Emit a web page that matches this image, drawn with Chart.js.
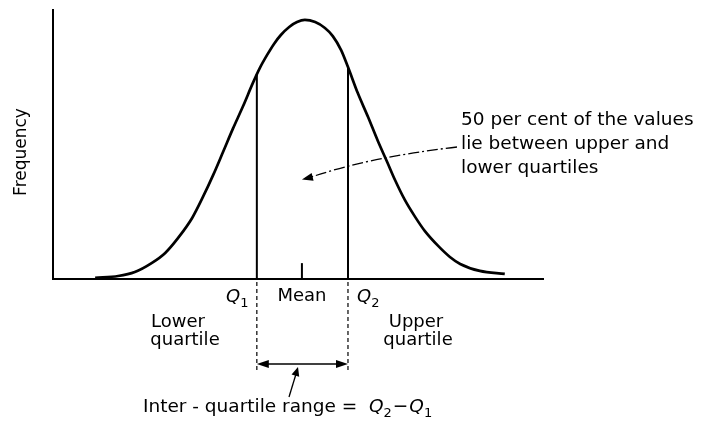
<!DOCTYPE html>
<html>
<head>
<meta charset="utf-8">
<script src="https://cdn.jsdelivr.net/npm/chart.js@4.4.1/dist/chart.umd.min.js"></script>
<style>
  html, body { margin: 0; padding: 0; background: #fff; }
  #wrap { width: 703px; height: 427px; }
</style>
</head>
<body>
<div id="wrap"><canvas id="chart"></canvas></div>
<script>
// curve (x: 0-100 along the axis, y: 0-100 frequency)
const curveX = [8.6, 13.3, 16.7, 20.2, 22.9, 25.5, 28.4, 30.6, 32.7, 34.7, 36.7, 38.8, 40.8,
                42.2, 43.7, 45.1, 46.5, 48.2, 49.8, 51.4, 53.5, 55.5, 57.1, 58.8, 60.2,
                62.2, 64.3, 66.3, 68.2, 69.8, 71.8, 73.9, 75.9, 78.6, 81.0, 83.1, 87.1, 92.2];
const curveY = [0.4, 1.1, 2.6, 6.0, 9.7, 15.2, 22.7, 30.5, 38.7, 47.2, 55.8, 64.3, 72.9,
                78.4, 83.3, 87.4, 90.7, 93.7, 95.5, 96.3, 95.5, 93.3, 90.3, 85.1, 78.8,
                69.1, 60.2, 51.3, 43.5, 36.8, 29.4, 23.1, 17.8, 12.3, 8.2, 5.6, 3.0, 1.9];

const quartileX = [41.6, 60.2];     // Q1, Q2
const quartileY = [76.1, 78.8];     // where the ordinates meet the curve
const meanX = 50.8;
const meanTickY = 5.9;

const noteLines = ['50 per cent of the values', 'lie between upper and', 'lower quartiles'];
const FONT = '"DejaVu Sans", sans-serif';

const vline = (x, y) => ({
    data: [{ x: x, y: 0 }, { x: x, y: y }],
    borderColor: '#000', borderWidth: 2, pointRadius: 0, tension: 0
});

function arrowHead(ctx, x, y, angle, len, half) {
    ctx.save();
    ctx.translate(x, y);
    ctx.rotate(angle);
    ctx.beginPath();
    ctx.moveTo(0, 0);
    ctx.lineTo(-len, -half);
    ctx.lineTo(-len, half);
    ctx.closePath();
    ctx.fill();
    ctx.restore();
}

// draws "Q" + subscript, returns end x
function qLabel(ctx, text, sub, x, y, size) {
    ctx.font = 'italic ' + size + 'px ' + FONT;
    ctx.fillText(text, x, y);
    let w = ctx.measureText(text).width;
    ctx.font = Math.round(size * 0.72) + 'px ' + FONT;
    ctx.fillText(sub, x + w, y + 5);
    return x + w + ctx.measureText(sub).width;
}

const annotations = {
    id: 'annotations',
    afterDraw(chart) {
        const ctx = chart.ctx;
        const xs = chart.scales.x, ys = chart.scales.y;
        const q1 = xs.getPixelForValue(quartileX[0]);
        const q2 = xs.getPixelForValue(quartileX[1]);
        const base = ys.getPixelForValue(0);
        ctx.save();
        ctx.fillStyle = '#000';
        ctx.strokeStyle = '#000';
        ctx.textBaseline = 'alphabetic';

        // y axis title
        ctx.save();
        ctx.translate(22, 152);
        ctx.rotate(-Math.PI / 2);
        ctx.font = '17px ' + FONT;
        ctx.textAlign = 'center';
        ctx.textBaseline = 'middle';
        ctx.fillText('Frequency', 0, 0);
        ctx.restore();

        // note on the right
        ctx.font = '18.5px ' + FONT;
        ctx.textAlign = 'left';
        noteLines.forEach((t, i) => ctx.fillText(t, 461, 125 + i * 24));

        // dash-dot pointer into the middle band
        const tipX = xs.getPixelForValue(meanX), tipY = ys.getPixelForValue(37);
        ctx.lineWidth = 1.3;
        ctx.setLineDash([11, 3, 2, 3]);
        ctx.beginPath();
        ctx.moveTo(457, 147);
        ctx.quadraticCurveTo(370, 157, tipX + 8, tipY - 2);
        ctx.stroke();
        ctx.setLineDash([]);
        arrowHead(ctx, tipX, tipY, Math.atan2(2, -8), 11, 4);

        // quartile labels under the axis
        ctx.textAlign = 'left';
        qLabel(ctx, 'Q', '1', 226, 302, 18);
        qLabel(ctx, 'Q', '2', 357, 302, 18);
        ctx.font = '18px ' + FONT;
        ctx.textAlign = 'center';
        ctx.fillText('Mean', xs.getPixelForValue(meanX), 301);
        ctx.fillText('Lower', 178, 327);
        ctx.fillText('quartile', 185, 345);
        ctx.fillText('Upper', 416, 327);
        ctx.fillText('quartile', 418, 345);

        // dashed extensions of the quartile ordinates
        ctx.lineWidth = 1.2;
        ctx.setLineDash([4, 3]);
        [q1, q2].forEach(px => {
            ctx.beginPath();
            ctx.moveTo(px, base + 3);
            ctx.lineTo(px, 373);
            ctx.stroke();
        });
        ctx.setLineDash([]);

        // double-headed range arrow
        ctx.lineWidth = 1.3;
        ctx.beginPath();
        ctx.moveTo(q1 + 6, 364);
        ctx.lineTo(q2 - 6, 364);
        ctx.stroke();
        arrowHead(ctx, q1, 364, Math.PI, 12, 4);
        arrowHead(ctx, q2, 364, 0, 12, 4);

        // small pointer from the caption
        ctx.beginPath();
        ctx.moveTo(289, 397);
        ctx.lineTo(296, 374);
        ctx.stroke();
        arrowHead(ctx, 298, 367, Math.atan2(-23, 7), 9, 4);

        // caption
        ctx.textAlign = 'left';
        ctx.font = '18.5px ' + FONT;
        let cx = 143;
        const head = 'Inter - quartile range =  ';
        ctx.fillText(head, cx, 412);
        cx += ctx.measureText(head).width;
        cx = qLabel(ctx, 'Q', '2', cx, 412, 18.5);
        ctx.font = '18.5px ' + FONT;
        ctx.fillText('\u2212', cx + 1, 412);
        cx += ctx.measureText('\u2212').width + 2;
        qLabel(ctx, 'Q', '1', cx, 412, 18.5);

        ctx.restore();
    }
};

new Chart(document.getElementById('chart').getContext('2d'), {
    type: 'line',
    data: {
        datasets: [
            {
                data: curveX.map((x, i) => ({ x: x, y: curveY[i] })),
                borderColor: '#000',
                borderWidth: 2.7,
                pointRadius: 0,
                cubicInterpolationMode: 'monotone'
            },
            vline(quartileX[0], quartileY[0]),
            vline(quartileX[1], quartileY[1]),
            vline(meanX, meanTickY)
        ]
    },
    options: {
        responsive: true,
        maintainAspectRatio: false,
        animation: false,
        layout: { padding: { left: 53, top: 10, right: 160, bottom: 148 } },
        plugins: { legend: { display: false }, tooltip: { enabled: false } },
        scales: {
            x: {
                type: 'linear', min: 0, max: 100,
                grid: { display: false, drawTicks: false },
                ticks: { display: false },
                border: { color: '#000', width: 2 }
            },
            y: {
                min: 0, max: 100,
                grid: { display: false, drawTicks: false },
                ticks: { display: false },
                border: { color: '#000', width: 2 }
            }
        }
    },
    plugins: [annotations]
});
</script>
</body>
</html>
